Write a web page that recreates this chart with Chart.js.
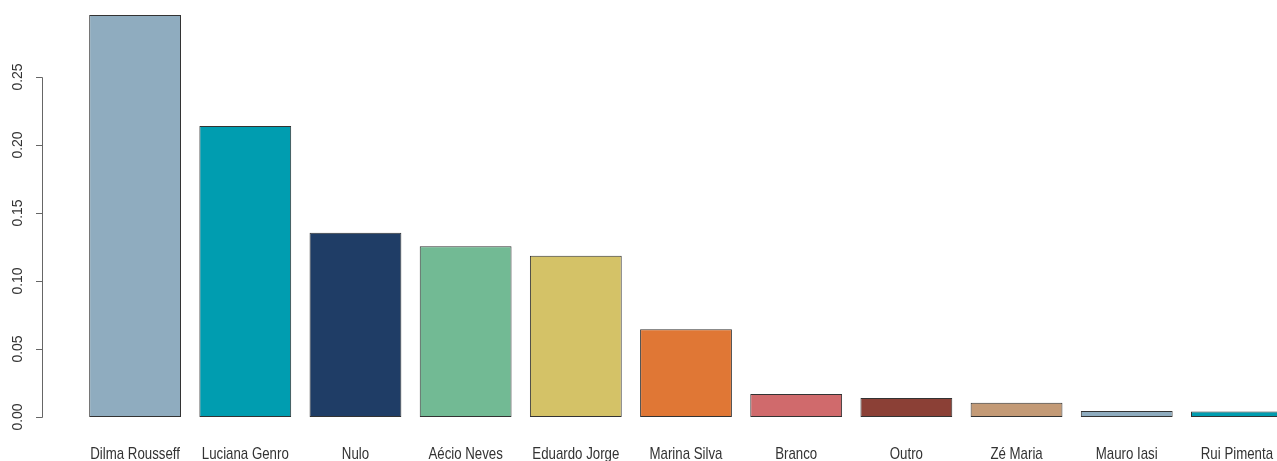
<!DOCTYPE html>
<html>
<head>
<meta charset="utf-8">
<script src="https://cdn.jsdelivr.net/npm/chart.js@4"></script>
<style>
  html, body { margin: 0; padding: 0; background: #fff; overflow: hidden; }
  #wrap { position: relative; width: 1300px; height: 461px; }
</style>
</head>
<body>
<div id="wrap"><canvas id="vote-chart"></canvas></div>
<script>
const candidates = ["Dilma Rousseff", "Luciana Genro", "Nulo", "Aécio Neves", "Eduardo Jorge",
  "Marina Silva", "Branco", "Outro", "Zé Maria", "Mauro Iasi", "Rui Pimenta"];
const shares = [0.2956, 0.2140, 0.1355, 0.1255, 0.1185, 0.0645, 0.0170, 0.0140, 0.0105, 0.0045, 0.0040];
const barColors = ["#8FACBF", "#009DB0", "#1F3D66", "#72BA94", "#D4C267", "#E07735",
  "#D06A6C", "#8B4036", "#C39A76", "#8FACBF", "#009DB0"];
const yTicks = [0, 0.05, 0.10, 0.15, 0.20, 0.25];

// R-style axes drawn from the chart's own scales
const baseAxes = {
  id: "baseAxes",
  afterDraw(chart) {
    const ctx = chart.ctx;
    const y = chart.scales.y;
    const x = chart.scales.x;
    const axisX = 42;
    ctx.save();
    ctx.strokeStyle = "#666";
    ctx.lineWidth = 1;
    ctx.beginPath();
    ctx.moveTo(axisX + 0.5, Math.round(y.getPixelForValue(yTicks[0])) + 0.5);
    ctx.lineTo(axisX + 0.5, Math.round(y.getPixelForValue(yTicks[yTicks.length - 1])) + 0.5);
    yTicks.forEach((t) => {
      const py = Math.round(y.getPixelForValue(t)) + 0.5;
      ctx.moveTo(axisX + 0.5, py);
      ctx.lineTo(axisX - 6, py);
    });
    ctx.stroke();

    ctx.fillStyle = "#333";
    ctx.font = "14px 'Liberation Sans', Arial, sans-serif";
    ctx.textAlign = "center";
    ctx.textBaseline = "middle";
    yTicks.forEach((t) => {
      const py = y.getPixelForValue(t);
      ctx.save();
      ctx.translate(18, py);
      ctx.rotate(-Math.PI / 2);
      ctx.fillText(t.toFixed(2), 0, 0);
      ctx.restore();
    });

    // condensed category labels
    ctx.font = "17px 'Liberation Sans', Arial, sans-serif";
    ctx.textBaseline = "alphabetic";
    candidates.forEach((name, i) => {
      const px = x.getPixelForValue(i);
      ctx.save();
      ctx.translate(px, 459);
      ctx.scale(0.78, 1);
      ctx.fillText(name, 0, 0);
      ctx.restore();
    });
    ctx.restore();
  }
};

new Chart(document.getElementById("vote-chart"), {
  type: "bar",
  data: {
    labels: candidates,
    datasets: [{
      data: shares,
      backgroundColor: barColors,
      borderColor: "#333",
      borderWidth: 1,
      borderSkipped: false,
      categoryPercentage: 1,
      barPercentage: 1 / 1.2
    }]
  },
  options: {
    responsive: true,
    maintainAspectRatio: false,
    animation: false,
    events: [],
    layout: { padding: { left: 80, right: 8, top: 9, bottom: 44 } },
    plugins: { legend: { display: false }, tooltip: { enabled: false } },
    scales: {
      x: { display: false },
      y: { display: false, min: 0, max: 0.3 }
    }
  },
  plugins: [baseAxes]
});
</script>
</body>
</html>
